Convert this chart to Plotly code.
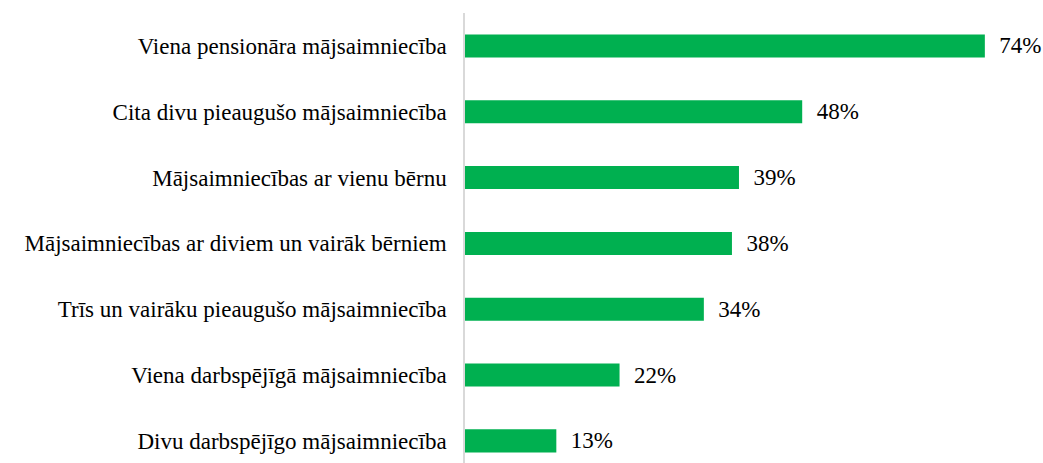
import plotly.graph_objects as go

categories = [
    "Viena pensionāra mājsaimniecība",
    "Cita divu pieaugušo mājsaimniecība",
    "Mājsaimniecības ar vienu bērnu",
    "Mājsaimniecības ar diviem un vairāk bērniem",
    "Trīs un vairāku pieaugušo mājsaimniecība",
    "Viena darbspējīgā mājsaimniecība",
    "Divu darbspējīgo mājsaimniecība",
]
values = [74, 48, 39, 38, 34, 22, 13]
labels = ["\u00a0\u00a0" + f"{v}%" for v in values]

fig = go.Figure(
    go.Bar(
        x=values,
        y=categories,
        orientation="h",
        marker=dict(color="#00B050", line=dict(width=0)),
        width=0.35,
        text=labels,
        textposition="outside",
        constraintext="none",
        cliponaxis=False,
        hoverinfo="skip",
        textfont=dict(family="Liberation Serif", size=23, color="#000000"),
    )
)

fig.update_layout(
    width=1043,
    height=463,
    margin=dict(l=465, r=16, t=13, b=0),
    paper_bgcolor="white",
    plot_bgcolor="white",
    showlegend=False,
    font=dict(family="Liberation Serif", size=23, color="#000000"),
    xaxis=dict(
        range=[0, 80],
        showgrid=False,
        showticklabels=False,
        zeroline=False,
        showline=False,
        ticks="",
    ),
    yaxis=dict(
        categoryorder="array",
        categoryarray=categories,
        range=[6.336, -0.5],
        showgrid=False,
        zeroline=False,
        showline=True,
        linecolor="#D9D9D9",
        linewidth=1.5,
        ticks="",
        ticklabelstandoff=12,
        automargin=False,
        tickfont=dict(family="Liberation Serif", size=23, color="#000000"),
    ),
)

fig.write_html(
    "out.html",
    config={"displayModeBar": False},
    post_script="document.body.style.margin='0';document.body.style.overflow='hidden';",
)
